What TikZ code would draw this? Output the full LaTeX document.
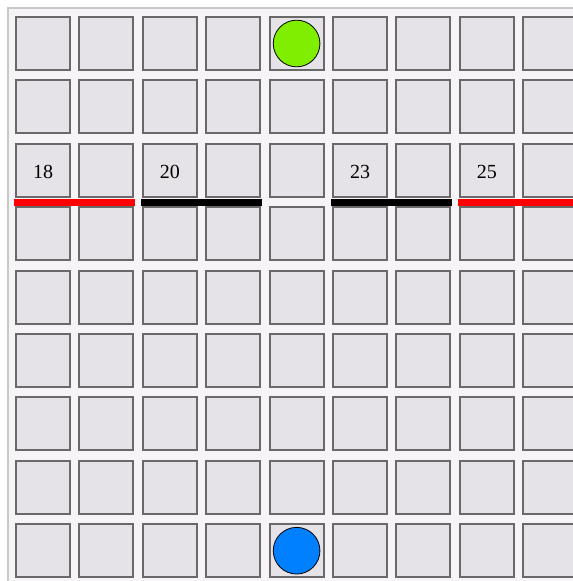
\documentclass[tikz,border=0pt]{standalone}
\usepackage{fontspec}
\setmainfont{Liberation Serif}
\definecolor{sqfill}{RGB}{229,227,231}
\definecolor{sqedge}{RGB}{105,105,105}
\definecolor{bgfill}{RGB}{246,244,246}
\definecolor{framecol}{RGB}{200,200,200}
\definecolor{lime}{RGB}{128,238,0}
\definecolor{azure}{RGB}{0,128,255}
\begin{document}
\begin{tikzpicture}[x=0.75pt,y=-0.75pt,
  sq/.style={draw=sqedge, fill=sqfill, line width=1.5pt, minimum width=40.5pt, minimum height=39.75pt, inner sep=0pt},
  lbl/.style={font=\fontsize{15}{16}\selectfont, inner sep=0pt},
  redbar/.style={draw=red, line width=5.25pt},
  blackbar/.style={draw=black, line width=5.25pt},
  token/.style={circle, draw=black, line width=0.6pt, minimum size=35pt, inner sep=0pt}]
\useasboundingbox (0,0) rectangle (573,581);
\clip (0,0) rectangle (573,581);
\fill[white] (0,0) rectangle (573,581);
\draw[draw=framecol, fill=bgfill, line width=1.5pt] (8,8) rectangle (620,620);
\foreach \i in {0,...,8}{
  \foreach \j in {0,...,8}{
    \node[sq] (s\i\j) at ({43+63.4*\i},{43.5+63.4*\j}) {};
  }
}
\node[lbl] (l18) at ([yshift=-1.2pt]s02.center) {18};
\node[lbl] (l20) at ([yshift=-1.2pt]s22.center) {20};
\node[lbl] (l23) at ([yshift=-1.2pt]s52.center) {23};
\node[lbl] (l25) at ([yshift=-1.2pt]s72.center) {25};
\draw[redbar] ([shift={(-1,4.5)}]s02.south west) -- ([shift={(1,4.5)}]s12.south east);
\draw[blackbar] ([shift={(-1,4.5)}]s22.south west) -- ([shift={(1,4.5)}]s32.south east);
\draw[blackbar] ([shift={(-1,4.5)}]s52.south west) -- ([shift={(1,4.5)}]s62.south east);
\draw[redbar] ([shift={(-1,4.5)}]s72.south west) -- ([shift={(1,4.5)}]s82.south east);
\node[token, fill=lime] (green) at (s40) {};
\node[token, fill=azure] (blue) at (s48) {};
\end{tikzpicture}
\end{document}
